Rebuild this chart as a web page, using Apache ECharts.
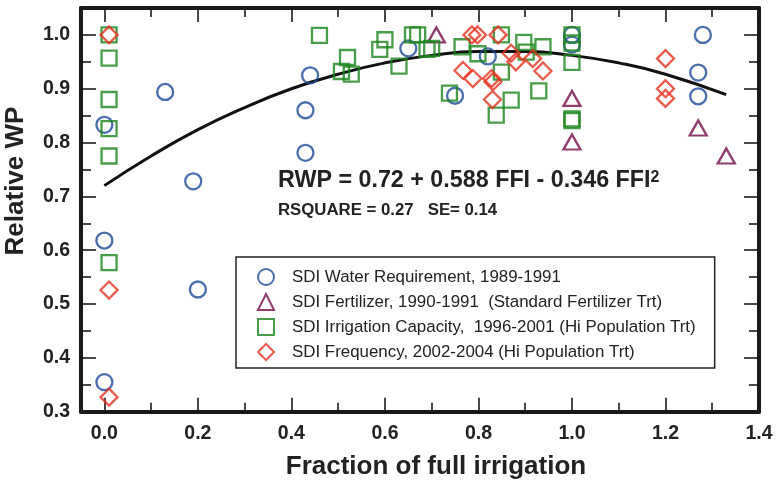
<!DOCTYPE html>
<html>
<head>
<meta charset="utf-8">
<script src="https://cdn.jsdelivr.net/npm/echarts@6/dist/echarts.min.js"></script>
<style>html,body{margin:0;padding:0;background:#fff}#c{width:777px;height:483px}</style>
</head>
<body>
<div id="c"></div>
<script>
// ---- data ----
const xMajorTicks = [0, 0.2, 0.4, 0.6, 0.8, 1.0, 1.2, 1.4];
const xMinorTicks = [0.1, 0.3, 0.5, 0.7, 0.9, 1.1, 1.3];
const yMajorTicks = [0.3, 0.4, 0.5, 0.6, 0.7, 0.8, 0.9, 1.0];
const yMinorTicks = [0.35, 0.45, 0.55, 0.65, 0.75, 0.85, 0.95];

const seriesNames = [
  'SDI Water Requirement, 1989-1991',
  'SDI Fertilizer, 1990-1991  (Standard Fertilizer Trt)',
  'SDI Irrigation Capacity,  1996-2001 (Hi Population Trt)',
  'SDI Frequency, 2002-2004 (Hi Population Trt)'
];

const waterX = [0.0, 0.13, 0.0, 0.19, 0.2, 0.0, 0.43, 0.44, 0.43, 0.65, 0.75, 0.82, 1.0, 1.0, 1.28, 1.27, 1.27];
const waterY = [0.833, 0.894, 0.618, 0.728, 0.527, 0.355, 0.86, 0.925, 0.781, 0.975, 0.887, 0.96, 1.0, 0.982, 1.0, 0.93, 0.886];

const fertX = [0.71, 1.0, 1.0, 1.27, 1.33];
const fertY = [1.0, 0.882, 0.801, 0.827, 0.775];

const capX = [0.01, 0.01, 0.01, 0.01, 0.01, 0.01, 0.46, 0.52, 0.507, 0.528, 0.60, 0.589, 0.63, 0.659, 0.67, 0.69, 0.70,
  0.738, 0.765, 0.799, 0.849, 0.849, 0.87, 0.838, 0.897, 0.902, 0.938, 0.929, 1.0, 1.0, 1.0, 1.0, 1.0];
const capY = [1.0, 0.957, 0.88, 0.826, 0.775, 0.577, 0.999, 0.958, 0.932, 0.927, 0.991, 0.973, 0.942, 1.0, 1.0, 0.973, 0.975,
  0.892, 0.978, 0.965, 1.0, 0.931, 0.879, 0.851, 0.986, 0.968, 0.978, 0.896, 1.0, 0.985, 0.949, 0.844, 0.841];

const freqX = [0.01, 0.01, 0.01, 0.786, 0.798, 0.842, 0.767, 0.788, 0.828, 0.831, 0.83, 0.87, 0.88, 0.916, 0.938, 1.2, 1.2, 1.2];
const freqY = [1.0, 0.526, 0.327, 1.0, 1.0, 1.0, 0.934, 0.919, 0.919, 0.913, 0.88, 0.966, 0.95, 0.956, 0.933, 0.956, 0.90, 0.882];

// fitted curve
const fitX = [0, 0.1, 0.2, 0.3, 0.4, 0.5, 0.6, 0.7, 0.8, 0.9, 1.0, 1.1, 1.2, 1.33];
const fitY = [0.72, 0.775, 0.824, 0.865, 0.90, 0.927, 0.948, 0.962, 0.969, 0.969, 0.962, 0.948, 0.927, 0.889];

const equationText = 'RWP = 0.72 + 0.588 FFI - 0.346 FFI{sup|2}';
const statsText = 'RSQUARE = 0.27   SE= 0.14';
const xTitle = 'Fraction of full irrigation';
const yTitle = 'Relative WP';

// ---- chart ----
const FONT = '"Liberation Sans", Arial, Helvetica, sans-serif';
const AX = '#1a1a1a';
const zip = (xs, ys) => xs.map((x, i) => [x, ys[i]]);

function xAx(pos, ticks, len, showLine, labels) {
  return {
    type: 'value', position: pos, min: -0.05, max: 1.4,
    axisLine: { show: showLine, onZero: false, lineStyle: { color: AX, width: 4 } },
    axisTick: { show: true, inside: true, length: len, customValues: ticks, lineStyle: { color: AX, width: 1.6 } },
    axisLabel: labels ? { show: true, customValues: ticks, margin: 12, formatter: v => v.toFixed(1),
      fontFamily: FONT, fontWeight: 'bold', fontSize: 19.5, color: '#222' } : { show: false },
    splitLine: { show: false }
  };
}
function yAx(pos, ticks, len, showLine, labels) {
  return {
    type: 'value', position: pos, min: 0.3, max: 1.05,
    axisLine: { show: showLine, onZero: false, lineStyle: { color: AX, width: 4 } },
    axisTick: { show: true, inside: true, length: len, customValues: ticks, lineStyle: { color: AX, width: 1.6 } },
    axisLabel: labels ? { show: true, customValues: ticks, margin: 11, formatter: v => v.toFixed(1),
      fontFamily: FONT, fontWeight: 'bold', fontSize: 19.5, color: '#222' } : { show: false },
    splitLine: { show: false }
  };
}

const colors = ['#1a4a9a', '#760c48', '#1a861a', '#e5321f'];
function sc(name, data, symbol, size, color) {
  return {
    type: 'scatter', name, data, symbol, symbolSize: size, xAxisIndex: 0, yAxisIndex: 0,
    itemStyle: { color: 'rgba(0,0,0,0)', borderColor: color, borderWidth: 2.3 },
    emphasis: { disabled: true }, z: 3
  };
}

const chart = echarts.init(document.getElementById('c'), null, { renderer: 'canvas' });
chart.setOption({
  backgroundColor: '#fff',
  animation: false,
  grid: { left: 81, right: 18, top: 8, bottom: 71.3 },
  xAxis: [
    xAx('bottom', xMajorTicks, 14, true, true),
    xAx('bottom', xMinorTicks, 9, false, false),
    xAx('top', xMajorTicks, 14, true, false),
    xAx('top', xMinorTicks, 9, false, false)
  ],
  yAxis: [
    yAx('left', yMajorTicks, 15, true, true),
    yAx('left', yMinorTicks, 10, false, false),
    yAx('right', yMajorTicks, 15, true, false),
    yAx('right', yMinorTicks, 10, false, false)
  ],
  legend: {
    data: [
      { name: seriesNames[0], icon: 'circle' },
      { name: seriesNames[1], icon: 'triangle' },
      { name: seriesNames[2], icon: 'rect' },
      { name: seriesNames[3], icon: 'diamond' }
    ],
    orient: 'vertical', left: 236, top: 257,
    itemWidth: 16, itemHeight: 16, itemGap: 7,
    padding: [11, 19, 7, 21],
    borderColor: '#222', borderWidth: 1.5, backgroundColor: '#fff',
    selectedMode: false,
    textStyle: { fontFamily: FONT, fontSize: 16.9, color: '#222', padding: [0, 0, 0, 13] }
  },
  series: [
    {
      type: 'line', data: zip(fitX, fitY), smooth: true, showSymbol: false, symbol: 'none',
      lineStyle: { color: '#111', width: 3 }, xAxisIndex: 0, yAxisIndex: 0, z: 2, silent: true
    },
    sc(seriesNames[0], zip(waterX, waterY), 'circle', 16, colors[0]),
    sc(seriesNames[1], zip(fertX, fertY), 'triangle', [17, 15], colors[1]),
    sc(seriesNames[2], zip(capX, capY), 'rect', 15, colors[2]),
    sc(seriesNames[3], zip(freqX, freqY), 'diamond', 17, colors[3])
  ],
  graphic: [
    { type: 'text', x: 16, y: 181, rotation: Math.PI / 2,
      style: { text: yTitle, font: 'bold 26px ' + FONT, fill: '#222', align: 'center', verticalAlign: 'middle' } },
    { type: 'text', x: 436, y: 467,
      style: { text: xTitle, font: 'bold 26px ' + FONT, fill: '#222', align: 'center', verticalAlign: 'middle' } },
    { type: 'text', x: 278, y: 181,
      style: { text: equationText, font: 'bold 23.3px ' + FONT, fill: '#222', align: 'left', verticalAlign: 'middle',
        rich: { sup: { font: 'bold 16px ' + FONT, fill: '#222', verticalAlign: 'top', padding: [0, 0, 4, 0] } } } },
    { type: 'text', x: 278, y: 210,
      style: { text: statsText, font: 'bold 16.8px ' + FONT, fill: '#222', align: 'left', verticalAlign: 'middle' } }
  ]
});
</script>
</body>
</html>
